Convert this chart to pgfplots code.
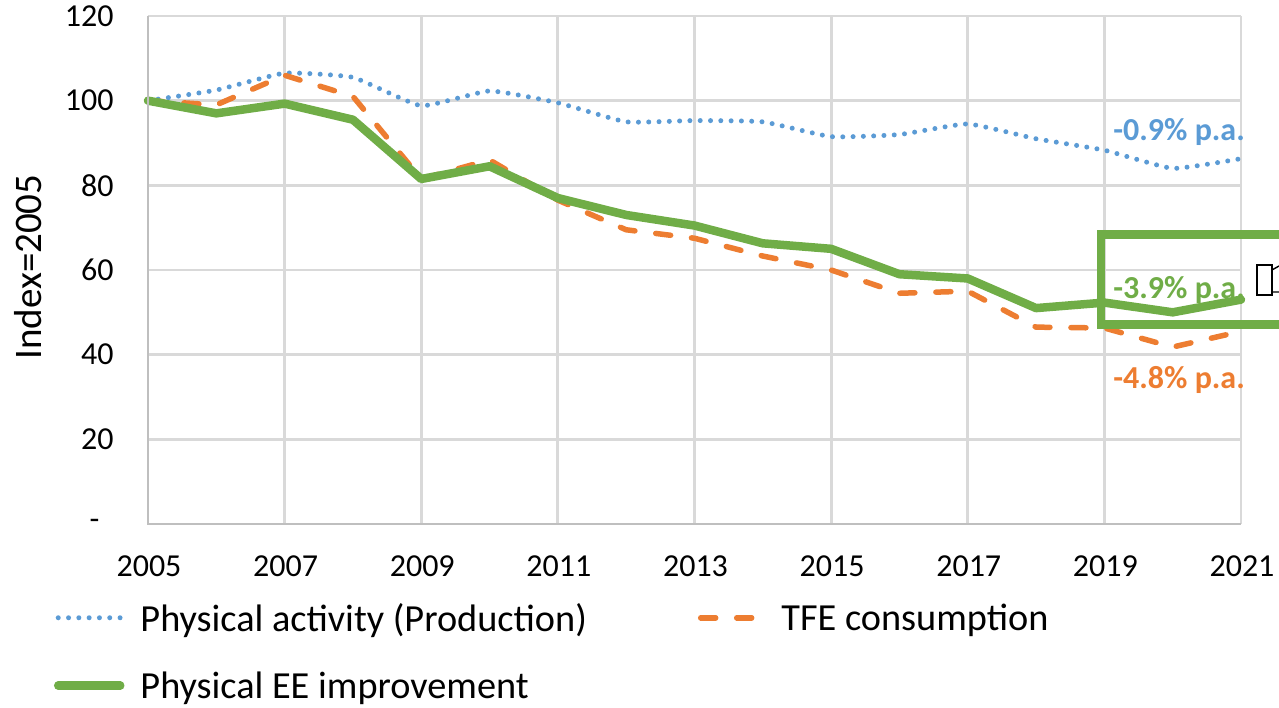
\documentclass[border=0pt]{standalone}
\usepackage{pgfplots}
\pgfplotsset{compat=1.18}
\usepackage{fontspec}
\setmainfont{Carlito}
\definecolor{cblue}{HTML}{5B9BD5}
\definecolor{corange}{HTML}{ED7D31}
\definecolor{cgreen}{HTML}{70AD47}
\definecolor{cgrid}{HTML}{D9D9D9}
\definecolor{caxis}{HTML}{BFBFBF}
\begin{document}
\begin{tikzpicture}[x=1pt,y=1pt]
\useasboundingbox (-148,-184) rectangle (1131,524);
\begin{axis}[
  at={(0,0)}, anchor=origin,
  scale only axis, width=1093pt, height=508pt,
  xmin=2005, xmax=2021, ymin=0, ymax=120,
  xtick={2005,2007,2009,2011,2013,2015,2017,2019,2021},
  ytick={0,20,40,60,80,100,120},
  yticklabels={-\rule{14pt}{0pt},20,40,60,80,100,120},
  /pgf/number format/1000 sep={},
  /pgf/number format/assume math mode=true,
  tick style={draw=none},
  xmajorgrids, ymajorgrids,
  grid style={draw=cgrid, line width=2.8pt},
  axis line style={draw=none},
  axis on top=false,
  clip=false,
  tick label style={font=\fontsize{32}{34}\selectfont},
  xticklabel style={anchor=center, yshift=-42pt, xshift=1pt},
  yticklabel style={anchor=east, xshift=-31pt},
  ylabel={Index=2005},
  ylabel style={font=\fontsize{39}{41}\selectfont, at={(axis description cs:0,0.5)}, anchor=center, xshift=3pt, yshift=120pt},
  legend cell align=left,
  legend columns=2,
  legend style={at={(-94pt,-77pt)}, anchor=north west, draw=none, fill=none, inner sep=0pt, outer sep=0pt,
    font=\fontsize{38.3}{41}\selectfont,
    row sep=35pt,
    /tikz/every odd column/.append style={column sep=14pt},
    /tikz/every even column/.append style={column sep=109pt}},
  legend image code/.code={\draw[#1] (0pt,0pt) -- (62pt,0pt);},
]
\addplot[cblue, line width=5pt, line cap=round, dash pattern=on 0pt off 10.3pt, line join=round, smooth, tension=0.25] coordinates {
(2005,100)(2006,102.5)(2007,106.5)(2008,105.5)(2009,98.8)(2010,102.3)(2011,99.5)(2012,95)(2013,95.3)(2014,95)(2015,91.5)(2016,92)(2017,94.5)(2018,91)(2019,88.3)(2020,84)(2021,86.3)};
\addlegendentry{Physical activity (Production)}
\addplot[corange, line width=5.5pt, line cap=round, dash pattern=on 15pt off 21pt, line join=round] coordinates {
(2005,100)(2006,99)(2007,106)(2008,101)(2009,81.5)(2010,86)(2011,76.5)(2012,69.5)(2013,67.5)(2014,63.3)(2015,60)(2016,54.5)(2017,55)(2018,46.5)(2019,46.3)(2020,41.8)(2021,45.5)};
\addlegendentry{TFE consumption}
\addplot[cgreen, line width=8.5pt, line cap=round, line join=round] coordinates {
(2005,100)(2006,97)(2007,99.3)(2008,95.5)(2009,81.5)(2010,84.5)(2011,77)(2012,73)(2013,70.5)(2014,66.3)(2015,65)(2016,59)(2017,58)(2018,51)(2019,52.3)(2020,50)(2021,53)};
\addlegendentry{Physical EE improvement}
\end{axis}
\draw[caxis, line width=2.5pt] (0,508) -- (0,0) -- (1093,0);
\node[anchor=east, text=cblue, inner sep=0pt, font=\fontsize{32}{34}\bfseries\selectfont] at (1097,392.5) {-0.9\% p.a.};
\node[anchor=east, text=cgreen, inner sep=0pt, font=\fontsize{32}{34}\bfseries\selectfont] at (1097,234) {-3.9\% p.a.};
\node[anchor=east, text=corange, inner sep=0pt, font=\fontsize{32}{34}\bfseries\selectfont] at (1097,144) {-4.8\% p.a.};
\draw[cgreen, line width=8.5pt, line cap=butt, line join=miter] (1131,289.5) -- (953,289.5) -- (953,199.5) -- (1131,199.5);
\draw[black, line width=1.4pt] (1109,259) rectangle (1124,229);
\draw[black, line width=1.4pt] (1124,254) -- (1131,258) (1124,232) -- (1131,232);
\end{tikzpicture}
\end{document}
